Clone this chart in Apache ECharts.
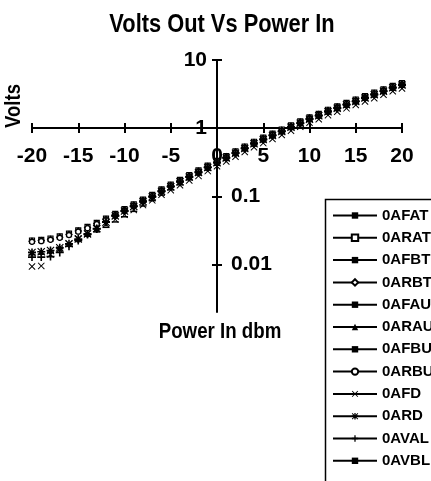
<!DOCTYPE html>
<html><head><meta charset="utf-8">
<script src="https://cdn.jsdelivr.net/npm/echarts@6/dist/echarts.min.js"></script>
<style>html,body{margin:0;padding:0;background:#fff}#c{width:431px;height:481px}</style>
</head><body><div id="c"></div>
<script>
// ---- data ----
const titleText = 'Volts Out Vs Power In';
const xTitle = 'Power In dbm';
const yTitle = 'Volts';
const powerIn = [-20,-19,-18,-17,-16,-15,-14,-13,-12,-11,-10,-9,-8,-7,-6,-5,-4,-3,-2,-1,0,1,2,3,4,5,6,7,8,9,10,11,12,13,14,15,16,17,18,19,20];
const yTicks = [0.01,0.1,1,10];
const yLabelsLeft = [1,10];
const yLabelsRight = [0.01,0.1];
const seriesNames = ['0AFAT','0ARAT','0AFBT','0ARBT','0AFAU','0ARAU','0AFBU','0ARBU','0AFD','0ARD','0AVAL','0AVBL'];
const AFAT = [0.0150,0.0152,0.0158,0.0172,0.0195,0.0228,0.0272,0.0325,0.0410,0.0501,0.0589,0.0691,0.0813,0.0955,0.115,0.135,0.159,0.186,0.219,0.257,0.302,0.355,0.417,0.490,0.576,0.661,0.758,0.871,1.00,1.15,1.32,1.48,1.70,1.91,2.14,2.40,2.69,3.02,3.39,3.80,4.17];
const ARAT = [0.0224,0.0229,0.0240,0.0257,0.0282,0.0316,0.0355,0.0407,0.0468,0.0550,0.0646,0.0758,0.0891,0.105,0.126,0.148,0.174,0.204,0.240,0.282,0.331,0.389,0.458,0.537,0.631,0.725,0.831,0.955,1.10,1.26,1.44,1.62,1.86,2.09,2.35,2.63,2.95,3.31,3.72,4.17,4.58];
const AFBT = [0.0142,0.0145,0.0150,0.0165,0.0188,0.0220,0.0265,0.0318,0.0400,0.0490,0.0576,0.0675,0.0794,0.0933,0.112,0.132,0.155,0.182,0.214,0.251,0.295,0.347,0.408,0.479,0.563,0.646,0.741,0.851,0.980,1.12,1.29,1.45,1.66,1.87,2.09,2.34,2.63,2.95,3.31,3.71,4.08];
const ARBT = [0.0219,0.0224,0.0234,0.0251,0.0275,0.0309,0.0347,0.0398,0.0457,0.0537,0.0631,0.0741,0.0871,0.102,0.123,0.144,0.170,0.199,0.234,0.275,0.323,0.381,0.447,0.525,0.617,0.708,0.812,0.933,1.07,1.23,1.41,1.59,1.82,2.05,2.29,2.57,2.88,3.23,3.63,4.07,4.47];
const AFAU = [0.0145,0.0148,0.0155,0.0168,0.0190,0.0224,0.0268,0.0322,0.0404,0.0494,0.0580,0.0681,0.0800,0.0940,0.113,0.133,0.156,0.183,0.215,0.253,0.297,0.350,0.411,0.482,0.567,0.650,0.746,0.857,0.987,1.13,1.30,1.46,1.67,1.88,2.11,2.36,2.65,2.97,3.34,3.74,4.11];
const ARAU = [0.0222,0.0227,0.0237,0.0254,0.0278,0.0313,0.0351,0.0403,0.0463,0.0543,0.0639,0.0749,0.0881,0.104,0.124,0.146,0.172,0.202,0.237,0.278,0.327,0.385,0.452,0.531,0.624,0.716,0.822,0.944,1.09,1.24,1.43,1.60,1.84,2.07,2.32,2.60,2.92,3.27,3.67,4.12,4.52];
const AFBU = [0.0138,0.0140,0.0146,0.0160,0.0183,0.0215,0.0258,0.0310,0.0392,0.0479,0.0563,0.0660,0.0776,0.0912,0.109,0.129,0.151,0.178,0.209,0.245,0.288,0.339,0.399,0.468,0.550,0.631,0.724,0.832,0.958,1.09,1.26,1.41,1.62,1.82,2.04,2.29,2.57,2.88,3.24,3.63,3.99];
const ARBU = [0.0214,0.0219,0.0229,0.0245,0.0269,0.0302,0.0339,0.0389,0.0447,0.0525,0.0617,0.0724,0.0851,0.100,0.120,0.141,0.166,0.195,0.229,0.269,0.316,0.372,0.437,0.513,0.603,0.692,0.794,0.912,1.05,1.20,1.38,1.55,1.78,2.00,2.24,2.51,2.82,3.16,3.55,3.98,4.37];
const AFD = [0.0093,0.0095,0.0140,0.0165,0.0200,0.0240,0.0285,0.0335,0.0389,0.0457,0.0537,0.0631,0.0741,0.0871,0.105,0.123,0.145,0.170,0.199,0.234,0.275,0.324,0.381,0.447,0.525,0.603,0.692,0.794,0.915,1.05,1.20,1.35,1.55,1.74,1.95,2.19,2.46,2.75,3.09,3.47,3.81];
const ARD = [0.0150,0.0153,0.0160,0.0175,0.0200,0.0235,0.0280,0.0335,0.0415,0.0515,0.0605,0.0710,0.0834,0.0980,0.118,0.138,0.163,0.191,0.224,0.264,0.310,0.365,0.428,0.503,0.591,0.678,0.778,0.894,1.03,1.18,1.35,1.52,1.74,1.96,2.20,2.46,2.76,3.10,3.48,3.90,4.28];
const AVAL = [0.0128,0.0128,0.0130,0.0150,0.0185,0.0225,0.0275,0.0330,0.0420,0.0520,0.0611,0.0717,0.0842,0.0990,0.119,0.140,0.164,0.193,0.227,0.266,0.313,0.368,0.433,0.508,0.597,0.685,0.786,0.903,1.04,1.19,1.37,1.53,1.76,1.98,2.22,2.48,2.79,3.13,3.51,3.94,4.33];
const AVBL = [0.0140,0.0142,0.0150,0.0170,0.0195,0.0225,0.0260,0.0300,0.0350,0.0420,0.0500,0.0600,0.0720,0.0860,0.104,0.124,0.147,0.174,0.205,0.242,0.285,0.336,0.396,0.465,0.547,0.628,0.721,0.829,0.955,1.09,1.25,1.41,1.61,1.81,2.03,2.28,2.56,2.87,3.22,3.61,3.97];
const seriesValues = [AFAT,ARAT,AFBT,ARBT,AFAU,ARAU,AFBU,ARBU,AFD,ARD,AVAL,AVBL];

// ---- styling ----
const FONT = "'Liberation Sans',Arial,sans-serif";
const PLUS = 'path://M4,0H6V4H10V6H6V10H4V6H0V4H4Z';
const CROSS = 'path://M1,0L5,4L9,0L10,1L6,5L10,9L9,10L5,6L1,10L0,9L4,5L0,1Z';
const STAR = 'path://M4,0H6V10H4Z M0,4H10V6H0Z M1,0L10,9L9,10L0,1Z M9,0L10,1L1,10L0,9Z';
const markers = [
  {symbol:'rect', size:[4,1.2], fill:'#000', bw:0},
  {symbol:'rect', size:5, fill:'#fff', bw:1.2},
  {symbol:'rect', size:[4,1.2], fill:'#000', bw:0},
  {symbol:'diamond', size:6, fill:'#fff', bw:1.2},
  {symbol:'rect', size:[4,1.2], fill:'#000', bw:0},
  {symbol:'triangle', size:6, fill:'#000', bw:0},
  {symbol:'rect', size:[4,1.2], fill:'#000', bw:0},
  {symbol:'circle', size:5, fill:'#fff', bw:1.2},
  {symbol:CROSS, size:7, fill:'#000', bw:0},
  {symbol:STAR, size:8, fill:'#000', bw:0},
  {symbol:PLUS, size:8, fill:'#000', bw:0},
  {symbol:'rect', size:[7,1.5], fill:'#000', bw:0}
];

const series = seriesNames.map((name, i) => ({
  name, type:'line', xAxisIndex:0, yAxisIndex:0,
  data: powerIn.map((x, j) => [x, seriesValues[i][j]]),
  symbol: markers[i].symbol, symbolSize: markers[i].size, showSymbol:true,
  lineStyle:{opacity:0, color:'#000'},
  itemStyle:{color:markers[i].fill, borderColor:'#000', borderWidth:markers[i].bw},
  emphasis:{disabled:true}, animation:false, clip:false
}));

const labelStyle = {fontFamily:FONT, fontWeight:'bold', fontSize:21, color:'#000'};
const lineSt = {color:'#000', width:2};
const L = 32, R = 29, TOP = 60, H = 252;
const yMin = 0.002, yMax = 10;

const option = {
  backgroundColor:'#fff',
  animation:false,
  legend:{orient:'vertical', left:325, top:199, padding:[9,0,0,7], itemWidth:44, itemHeight:8, itemGap:7.3,
    data:seriesNames, selectedMode:false,
    textStyle:{fontFamily:FONT, fontWeight:'bold', fontSize:15, color:'#000', lineHeight:14},
    lineStyle:{color:'#000', width:2, opacity:1}},
  grid:[
    {left:L, right:R, top:TOP, height:H},
    {left:L, right:R, top:TOP, height:68},
    {left:L, right:R, top:TOP, height:68},
    {left:217, width:100, top:TOP, height:H},
    {left:217, width:100, top:TOP, height:H}
  ],
  xAxis:[
    {gridIndex:0, type:'value', min:-20, max:20, show:false},
    {gridIndex:1, type:'value', min:-20, max:20, interval:5, position:'bottom',
      axisLine:{onZero:false, lineStyle:lineSt}, axisTick:{length:5, lineStyle:lineSt},
      axisLabel:Object.assign({margin:18}, labelStyle), splitLine:{show:false}},
    {gridIndex:2, type:'value', min:-20, max:20, interval:5, position:'bottom',
      axisLine:{show:false, onZero:false}, axisTick:{inside:true, length:5, lineStyle:lineSt},
      axisLabel:{show:false}, splitLine:{show:false}},
    {gridIndex:3, type:'value', min:0, max:1, show:false},
    {gridIndex:4, type:'value', min:0, max:1, show:false}
  ],
  yAxis:[
    {gridIndex:0, type:'log', logBase:10, min:yMin, max:yMax, show:false},
    {gridIndex:1, type:'value', min:0, max:1, show:false},
    {gridIndex:2, type:'value', min:0, max:1, show:false},
    {gridIndex:3, type:'log', logBase:10, min:yMin, max:yMax, position:'left',
      axisLine:{onZero:false, lineStyle:lineSt},
      axisTick:{length:5, lineStyle:lineSt, customValues:yTicks},
      axisLabel:Object.assign({margin:10, customValues:yLabelsLeft}, labelStyle),
      splitLine:{show:false}, minorTick:{show:false}},
    {gridIndex:4, type:'log', logBase:10, min:yMin, max:yMax, position:'left',
      axisLine:{show:false, onZero:false},
      axisTick:{inside:true, length:5, lineStyle:lineSt, customValues:yTicks},
      axisLabel:Object.assign({inside:true, margin:14, customValues:yLabelsRight}, labelStyle),
      splitLine:{show:false}}
  ],
  graphic:[
    {type:'rect', shape:{x:325.5, y:199.5, width:200, height:400}, style:{fill:'none', stroke:'#000', lineWidth:1.5}, silent:true},
    {type:'text', x:222, y:25, scaleX:0.84, style:{text:titleText, font:"bold 26px "+FONT, fill:'#000', align:'center', verticalAlign:'middle'}},
    {type:'text', x:14, y:106, rotation:Math.PI/2, scaleX:0.84, style:{text:yTitle, font:"bold 22px "+FONT, fill:'#000', align:'center', verticalAlign:'middle'}},
    {type:'text', x:220, y:332, scaleX:0.85, style:{text:xTitle, font:"bold 22px "+FONT, fill:'#000', align:'center', verticalAlign:'middle'}}
  ],
  series
};
const chart = echarts.init(document.getElementById('c'), null, {renderer:'canvas'});
chart.setOption(option);
</script></body></html>
